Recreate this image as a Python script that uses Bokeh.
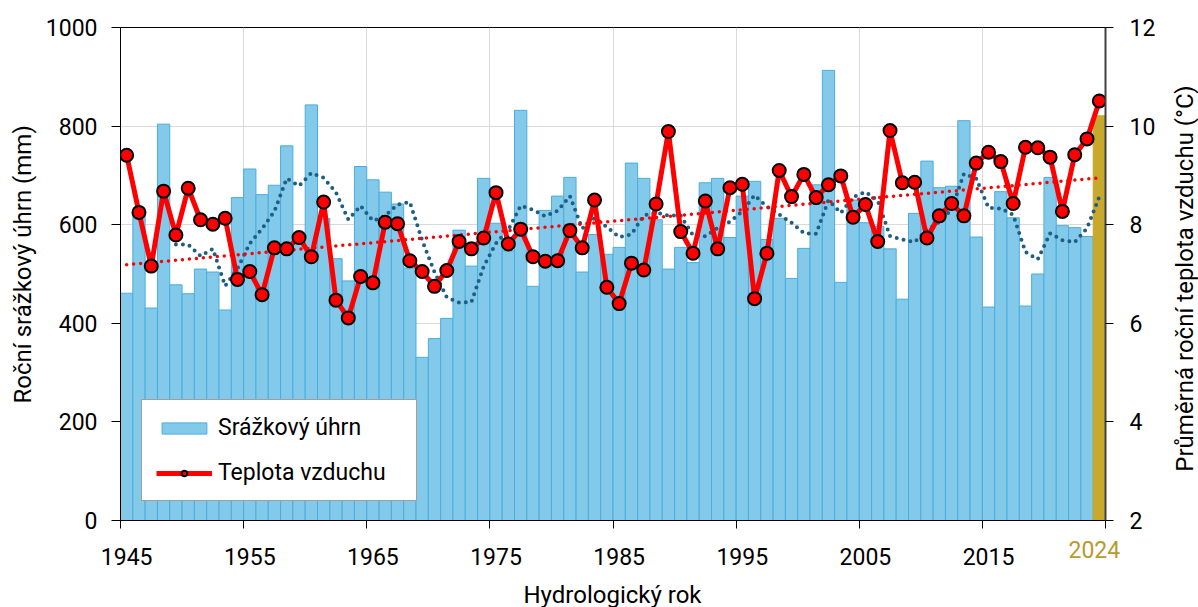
import math
import numpy as np
from bokeh.plotting import figure
from bokeh.models import (Range1d, LinearAxis, FixedTicker, Legend, LegendItem,
                          ColumnDataSource, Title, Label)
from bokeh.embed import file_html
from bokeh.resources import INLINE

# ---------------- data ----------------
years = list(range(1945, 2025))
precip_mm = [461, 625, 431, 804, 478, 460, 510, 504, 427, 655,
             713, 661, 680, 760, 580, 843, 613, 531, 486, 718,
             691, 666, 642, 512, 331, 369, 410, 589, 516, 694,
             603, 547, 832, 475, 629, 658, 696, 504, 580, 540,
             554, 725, 694, 610, 510, 554, 523, 685, 694, 574,
             658, 688, 570, 613, 491, 552, 681, 913, 483, 650,
             604, 596, 551, 449, 623, 729, 675, 678, 811, 575,
             433, 667, 614, 435, 500, 696, 598, 594, 576, 821]
temp_c = [9.41, 8.25, 7.16, 8.68, 7.79, 8.74, 8.10, 8.01, 8.13, 6.89,
          7.05, 6.58, 7.53, 7.51, 7.74, 7.35, 8.46, 6.47, 6.11, 6.95,
          6.82, 8.05, 8.02, 7.27, 7.05, 6.75, 7.07, 7.66, 7.51, 7.73,
          8.65, 7.61, 7.91, 7.35, 7.26, 7.27, 7.88, 7.53, 8.50, 6.73,
          6.40, 7.22, 7.08, 8.42, 9.89, 7.86, 7.42, 8.48, 7.51, 8.75,
          8.82, 6.50, 7.42, 9.10, 8.57, 9.02, 8.55, 8.81, 8.99, 8.15,
          8.41, 7.66, 9.91, 8.85, 8.86, 7.73, 8.18, 8.43, 8.18, 9.25,
          9.47, 9.28, 8.43, 9.57, 9.56, 9.37, 8.27, 9.42, 9.74, 10.51]
x_tick_years = [1945, 1955, 1965, 1975, 1985, 1995, 2005, 2015]
x_tick_labels = ["1945", "1955", "1965", "1975", "1985", "1995", "2005", "2015"]
highlight_year = 2024
highlight_label = "2024"
left_ticks = [0, 200, 400, 600, 800, 1000]
right_ticks = [2, 4, 6, 8, 10, 12]

title_left = "Roční srážkový úhrn (mm)"
title_right = "Průměrná roční teplota vzduchu (°C)"
title_x = "Hydrologický rok"
legend_labels = ["Srážkový úhrn", "Teplota vzduchu"]

# derived trend lines (as in the original chart: 5-yr moving average, linear trend)
yr = np.array(years, dtype=float)
pr = np.array(precip_mm, dtype=float)
tc = np.array(temp_c, dtype=float)
ma5 = np.convolve(pr, np.ones(5) / 5.0, mode="valid")
ma_years = yr[4:]
coef = np.polyfit(yr, tc, 1)
trend = np.polyval(coef, yr)

FONT = "Roboto"
TICK_FS = "23px"
TITLE_FS = "24px"
BLUE = "#82C9EA"
BLUE_EDGE = "#4BADDD"
GOLD = "#C9A92B"
GOLD_TXT = "#B99A2E"

p = figure(width=1198, height=607, x_range=Range1d(1944.5, 2024.5),
           y_range=Range1d(0, 1000), output_backend="svg", toolbar_location=None,
           min_border_left=120, min_border_right=93, min_border_top=27,
           min_border_bottom=87)
p.extra_y_ranges = {"temp": Range1d(2, 12)}
p.outline_line_color = "black"
p.outline_line_width = 1
p.background_fill_color = "white"

# grids
p.ygrid.ticker = FixedTicker(ticks=left_ticks)
p.ygrid.grid_line_color = "#D9D9D9"
edge_ticks = [y - 0.5 for y in x_tick_years] + [highlight_year + 0.5]
p.xgrid.ticker = FixedTicker(ticks=edge_ticks[1:-1])
p.xgrid.grid_line_color = "#D9D9D9"

# bars
main_src = ColumnDataSource(dict(x=years[:-1], top=precip_mm[:-1]))
bars = p.vbar(x="x", top="top", width=1.0, source=main_src, fill_color=BLUE,
              line_color=BLUE_EDGE, line_width=1)
hl_src = ColumnDataSource(dict(x=years[-1:], top=precip_mm[-1:]))
p.vbar(x="x", top="top", width=1.0, source=hl_src, fill_color=GOLD,
       line_color=GOLD, line_width=1)

# moving average (dotted dark blue)
p.line(ma_years, ma5, line_color="#1F5E84", line_width=4, line_dash="0 7",
       line_cap="round")
# linear trend of temperature (dotted red)
p.line(yr, trend, y_range_name="temp", line_color="#FF0000", line_width=3.5,
       line_dash="0 7", line_cap="round")

# temperature line
tline = p.line(years, temp_c, y_range_name="temp", line_color="#FF0000",
               line_width=5)
tpts = p.scatter(years, temp_c, y_range_name="temp", size=13,
                 fill_color="#FF0000", line_color="black", line_width=2)


def px_to_x(px):
    return 1944.5 + (px - 120) / (985 / 80)


def px_to_y(py):
    return (520 - py) / 0.493


# ---- x axis ----
p.xaxis.ticker = FixedTicker(ticks=x_tick_years, minor_ticks=edge_ticks)
p.xaxis.major_label_overrides = {y: l for y, l in zip(x_tick_years, x_tick_labels)}
p.xaxis.major_tick_line_color = None
p.xaxis.major_tick_out = 8
p.xaxis.major_tick_in = 0
p.xaxis.minor_tick_line_color = "black"
p.xaxis.minor_tick_out = 8
p.xaxis.minor_tick_in = 0
p.xaxis.axis_line_color = "black"
p.xaxis.major_label_standoff = 19
p.xaxis.major_label_text_font = FONT
p.xaxis.major_label_text_font_size = TICK_FS
p.xaxis.major_label_text_color = "black"

# highlighted year label (gold), laid out in the bottom panel on the tick-label row
p.add_layout(Title(text=highlight_label, align="left", offset=948, standoff=-54,
                   vertical_align="top", text_font=FONT, text_font_size=TICK_FS,
                   text_font_style="normal", text_color=GOLD_TXT), "below")

# x-axis title in the bottom panel
p.add_layout(Label(x=px_to_x(612), y=px_to_y(594), text=title_x,
                   text_align="center", text_baseline="middle",
                   text_font=FONT, text_font_size=TITLE_FS, text_color="black"),
             "below")

# ---- left axis ----
p.yaxis.ticker = FixedTicker(ticks=left_ticks)
p.yaxis.major_tick_out = 9
p.yaxis.major_tick_in = 0
p.yaxis.minor_tick_line_color = None
p.yaxis.axis_line_color = "black"
p.yaxis.major_tick_line_color = "black"
p.yaxis.major_label_standoff = 14
p.yaxis.major_label_text_font = FONT
p.yaxis.major_label_text_font_size = TICK_FS
p.yaxis.major_label_text_color = "black"

p.add_layout(Title(text=title_left, align="left", offset=117, standoff=12,
                   vertical_align="bottom", text_font=FONT, text_font_size=TITLE_FS,
                   text_font_style="normal", text_color="black"), "left")

# ---- right axis ----
raxis = LinearAxis(y_range_name="temp", ticker=FixedTicker(ticks=right_ticks))
raxis.major_tick_out = 8
raxis.major_tick_in = 0
raxis.minor_tick_line_color = None
raxis.axis_line_color = "#404040"
raxis.axis_line_width = 2
raxis.major_tick_line_color = "black"
raxis.major_label_standoff = 16
raxis.major_label_text_font = FONT
raxis.major_label_text_font_size = TICK_FS
raxis.major_label_text_color = "black"
p.add_layout(raxis, "right")

# right title, reading bottom-to-top, placed in the right side panel
p.add_layout(Label(x=px_to_x(1184), y=px_to_y(278), text=title_right,
                   angle=math.pi / 2, text_align="center", text_baseline="middle",
                   text_font=FONT, text_font_size=TITLE_FS, text_color="black"),
             "right")

legend = Legend(items=[LegendItem(label=legend_labels[0], renderers=[bars]),
                       LegendItem(label=legend_labels[1], renderers=[tline, tpts])],
                location=(21, 19))
legend.border_line_color = "#404040"
legend.border_line_width = 1.5
legend.background_fill_color = "white"
legend.background_fill_alpha = 1
legend.label_text_font = FONT
legend.label_text_font_size = TICK_FS
legend.label_text_color = "black"
legend.glyph_width = 56
legend.glyph_height = 14
legend.label_height = 24
legend.label_width = 184
legend.padding = 14
legend.spacing = 18
legend.label_standoff = 6
legend.margin = 0
p.add_layout(legend)

open("out.html", "w").write(file_html(p, INLINE))
